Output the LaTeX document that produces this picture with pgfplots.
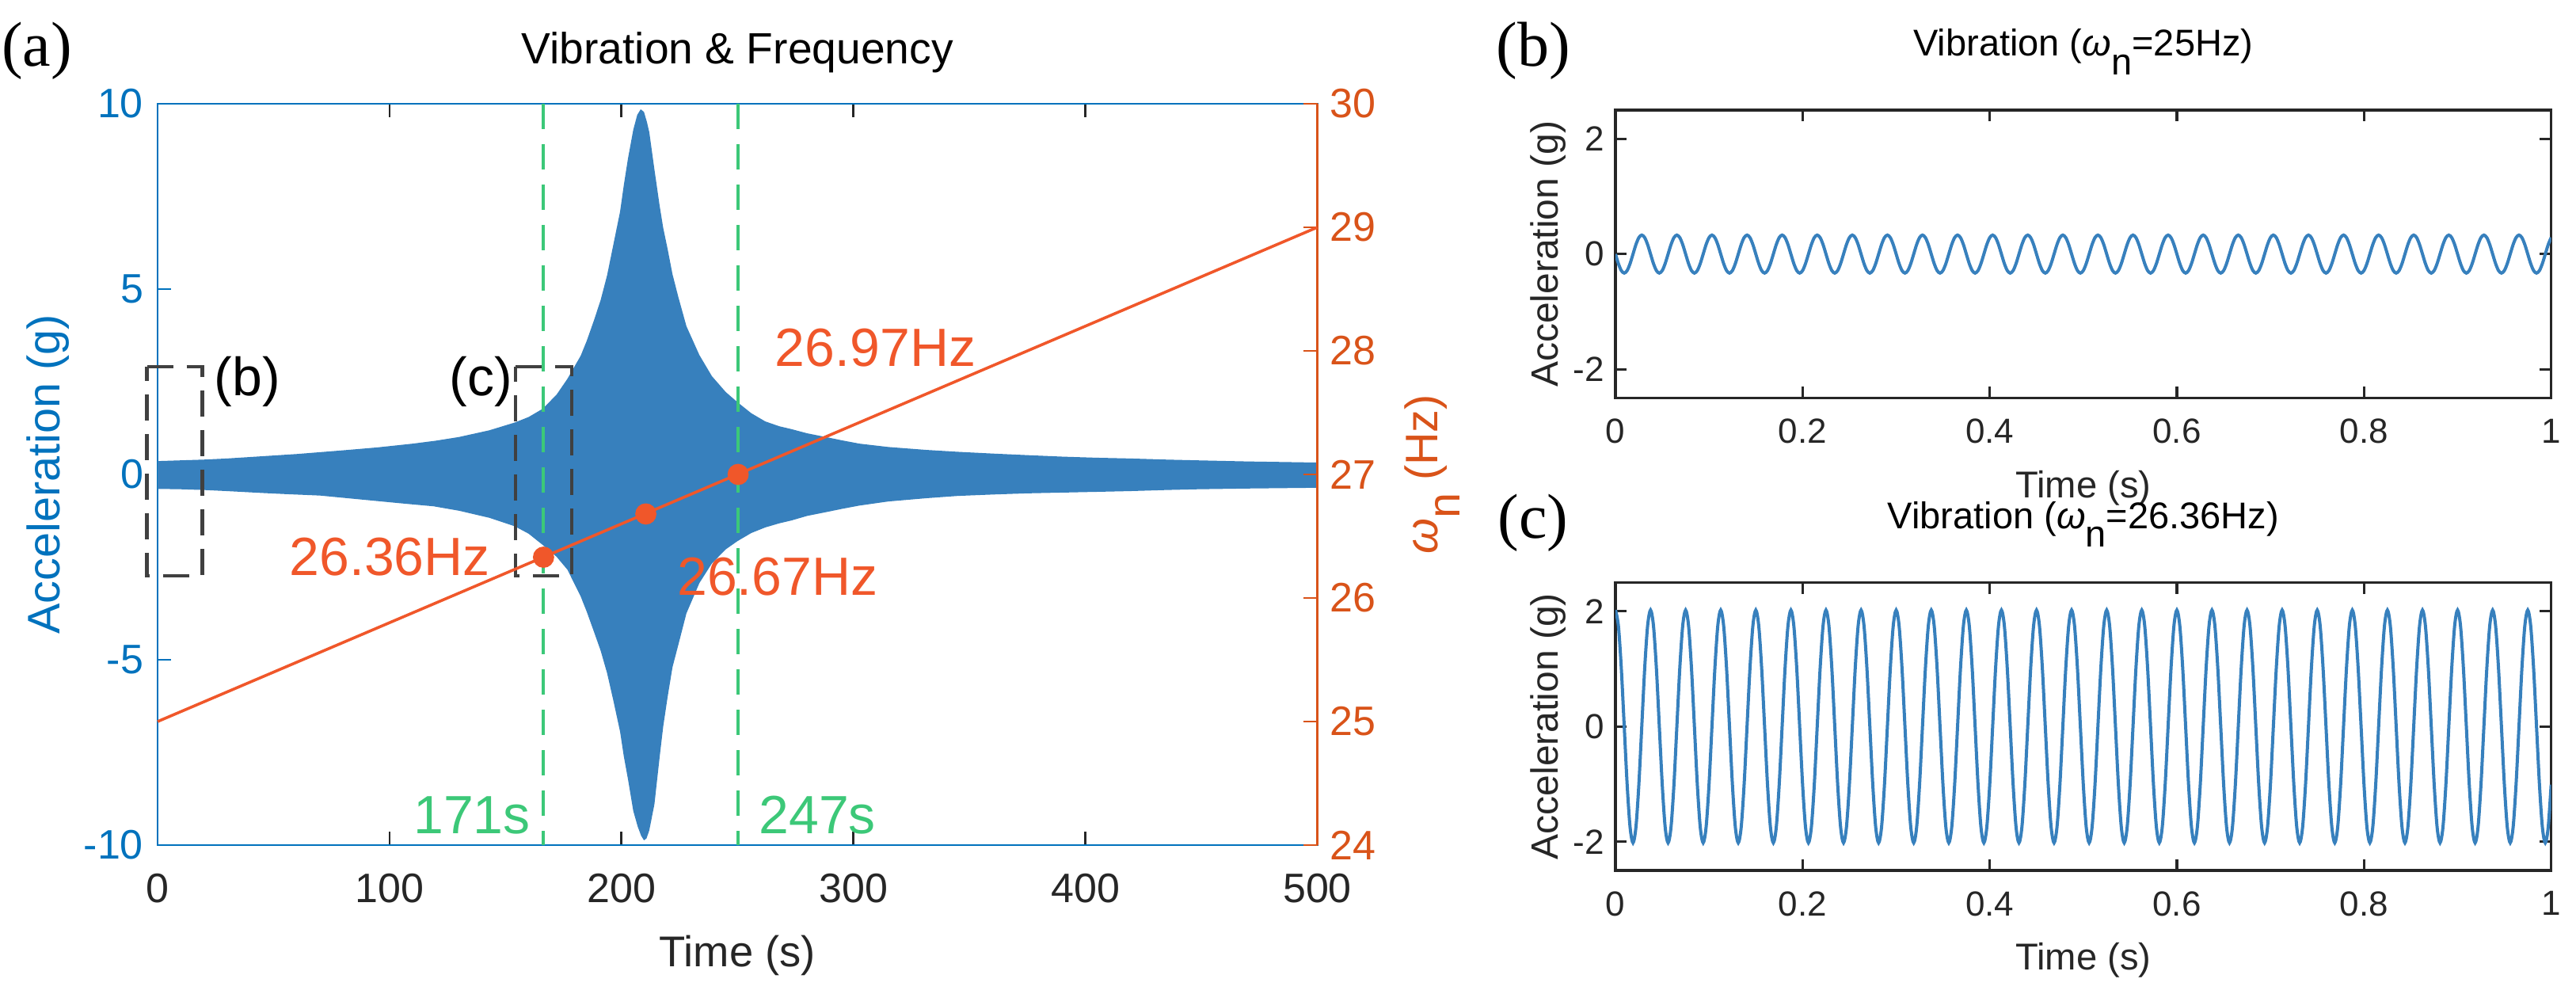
\documentclass[border=0pt]{standalone}
\usepackage{fontspec}
\setmainfont{Liberation Sans}
\newfontfamily\serifpanel{Liberation Serif}
\usepackage{pgfplots}
\usepackage{pgfplotstable}
\pgfplotsset{compat=1.18}

\definecolor{mblue}{RGB}{0,114,189}
\definecolor{morange}{RGB}{217,83,25}
\definecolor{fillblue}{RGB}{55,128,189}
\definecolor{lred}{RGB}{240,87,42}
\definecolor{lgreen}{RGB}{60,200,120}
\definecolor{boxgray}{RGB}{64,64,64}
\definecolor{axblack}{RGB}{38,38,38}

\newcommand{\fs}[1]{\fontsize{#1}{#1}\selectfont}
\newcommand{\wn}{\textit{ω}\raisebox{-0.5em}{n}}

% sampled signal, index k = 0..320 covers 0..1 s (step 3.125 ms)
\pgfplotstableread[row sep=\\]{
k b c\\
0 0 2.02\\1 -0.165 1.749\\2 -0.286 1.01\\3 -0.33 0\\4 -0.286 -1.01\\5 -0.165 -1.749\\6 0 -2.02\\7 0.165 -1.749\\8 0.286 -1.01\\9 0.33 0\\10 0.286 1.01\\11 0.165 1.749\\
12 0 2.02\\13 -0.165 1.749\\14 -0.286 1.01\\15 -0.33 0\\16 -0.286 -1.01\\17 -0.165 -1.749\\18 0 -2.02\\19 0.165 -1.749\\20 0.286 -1.01\\21 0.33 0\\22 0.286 1.01\\23 0.165 1.749\\
24 0 2.02\\25 -0.165 1.749\\26 -0.286 1.01\\27 -0.33 0\\28 -0.286 -1.01\\29 -0.165 -1.749\\30 0 -2.02\\31 0.165 -1.749\\32 0.286 -1.01\\33 0.33 0\\34 0.286 1.01\\35 0.165 1.749\\
36 0 2.02\\37 -0.165 1.749\\38 -0.286 1.01\\39 -0.33 0\\40 -0.286 -1.01\\41 -0.165 -1.749\\42 0 -2.02\\43 0.165 -1.749\\44 0.286 -1.01\\45 0.33 0\\46 0.286 1.01\\47 0.165 1.749\\
48 0 2.02\\49 -0.165 1.749\\50 -0.286 1.01\\51 -0.33 0\\52 -0.286 -1.01\\53 -0.165 -1.749\\54 0 -2.02\\55 0.165 -1.749\\56 0.286 -1.01\\57 0.33 0\\58 0.286 1.01\\59 0.165 1.749\\
60 0 2.02\\61 -0.165 1.749\\62 -0.286 1.01\\63 -0.33 0\\64 -0.286 -1.01\\65 -0.165 -1.749\\66 0 -2.02\\67 0.165 -1.749\\68 0.286 -1.01\\69 0.33 0\\70 0.286 1.01\\71 0.165 1.749\\
72 0 2.02\\73 -0.165 1.749\\74 -0.286 1.01\\75 -0.33 0\\76 -0.286 -1.01\\77 -0.165 -1.749\\78 0 -2.02\\79 0.165 -1.749\\80 0.286 -1.01\\81 0.33 0\\82 0.286 1.01\\83 0.165 1.749\\
84 0 2.02\\85 -0.165 1.749\\86 -0.286 1.01\\87 -0.33 0\\88 -0.286 -1.01\\89 -0.165 -1.749\\90 0 -2.02\\91 0.165 -1.749\\92 0.286 -1.01\\93 0.33 0\\94 0.286 1.01\\95 0.165 1.749\\
96 0 2.02\\97 -0.165 1.749\\98 -0.286 1.01\\99 -0.33 0\\100 -0.286 -1.01\\101 -0.165 -1.749\\102 0 -2.02\\103 0.165 -1.749\\104 0.286 -1.01\\105 0.33 0\\106 0.286 1.01\\107 0.165 1.749\\
108 0 2.02\\109 -0.165 1.749\\110 -0.286 1.01\\111 -0.33 0\\112 -0.286 -1.01\\113 -0.165 -1.749\\114 0 -2.02\\115 0.165 -1.749\\116 0.286 -1.01\\117 0.33 0\\118 0.286 1.01\\119 0.165 1.749\\
120 0 2.02\\121 -0.165 1.749\\122 -0.286 1.01\\123 -0.33 0\\124 -0.286 -1.01\\125 -0.165 -1.749\\126 0 -2.02\\127 0.165 -1.749\\128 0.286 -1.01\\129 0.33 0\\130 0.286 1.01\\131 0.165 1.749\\
132 0 2.02\\133 -0.165 1.749\\134 -0.286 1.01\\135 -0.33 0\\136 -0.286 -1.01\\137 -0.165 -1.749\\138 0 -2.02\\139 0.165 -1.749\\140 0.286 -1.01\\141 0.33 0\\142 0.286 1.01\\143 0.165 1.749\\
144 0 2.02\\145 -0.165 1.749\\146 -0.286 1.01\\147 -0.33 0\\148 -0.286 -1.01\\149 -0.165 -1.749\\150 0 -2.02\\151 0.165 -1.749\\152 0.286 -1.01\\153 0.33 0\\154 0.286 1.01\\155 0.165 1.749\\
156 0 2.02\\157 -0.165 1.749\\158 -0.286 1.01\\159 -0.33 0\\160 -0.286 -1.01\\161 -0.165 -1.749\\162 0 -2.02\\163 0.165 -1.749\\164 0.286 -1.01\\165 0.33 0\\166 0.286 1.01\\167 0.165 1.749\\
168 0 2.02\\169 -0.165 1.749\\170 -0.286 1.01\\171 -0.33 0\\172 -0.286 -1.01\\173 -0.165 -1.749\\174 0 -2.02\\175 0.165 -1.749\\176 0.286 -1.01\\177 0.33 0\\178 0.286 1.01\\179 0.165 1.749\\
180 0 2.02\\181 -0.165 1.749\\182 -0.286 1.01\\183 -0.33 0\\184 -0.286 -1.01\\185 -0.165 -1.749\\186 0 -2.02\\187 0.165 -1.749\\188 0.286 -1.01\\189 0.33 0\\190 0.286 1.01\\191 0.165 1.749\\
192 0 2.02\\193 -0.165 1.749\\194 -0.286 1.01\\195 -0.33 0\\196 -0.286 -1.01\\197 -0.165 -1.749\\198 0 -2.02\\199 0.165 -1.749\\200 0.286 -1.01\\201 0.33 0\\202 0.286 1.01\\203 0.165 1.749\\
204 0 2.02\\205 -0.165 1.749\\206 -0.286 1.01\\207 -0.33 0\\208 -0.286 -1.01\\209 -0.165 -1.749\\210 0 -2.02\\211 0.165 -1.749\\212 0.286 -1.01\\213 0.33 0\\214 0.286 1.01\\215 0.165 1.749\\
216 0 2.02\\217 -0.165 1.749\\218 -0.286 1.01\\219 -0.33 0\\220 -0.286 -1.01\\221 -0.165 -1.749\\222 0 -2.02\\223 0.165 -1.749\\224 0.286 -1.01\\225 0.33 0\\226 0.286 1.01\\227 0.165 1.749\\
228 0 2.02\\229 -0.165 1.749\\230 -0.286 1.01\\231 -0.33 0\\232 -0.286 -1.01\\233 -0.165 -1.749\\234 0 -2.02\\235 0.165 -1.749\\236 0.286 -1.01\\237 0.33 0\\238 0.286 1.01\\239 0.165 1.749\\
240 0 2.02\\241 -0.165 1.749\\242 -0.286 1.01\\243 -0.33 0\\244 -0.286 -1.01\\245 -0.165 -1.749\\246 0 -2.02\\247 0.165 -1.749\\248 0.286 -1.01\\249 0.33 0\\250 0.286 1.01\\251 0.165 1.749\\
252 0 2.02\\253 -0.165 1.749\\254 -0.286 1.01\\255 -0.33 0\\256 -0.286 -1.01\\257 -0.165 -1.749\\258 0 -2.02\\259 0.165 -1.749\\260 0.286 -1.01\\261 0.33 0\\262 0.286 1.01\\263 0.165 1.749\\
264 0 2.02\\265 -0.165 1.749\\266 -0.286 1.01\\267 -0.33 0\\268 -0.286 -1.01\\269 -0.165 -1.749\\270 0 -2.02\\271 0.165 -1.749\\272 0.286 -1.01\\273 0.33 0\\274 0.286 1.01\\275 0.165 1.749\\
276 0 2.02\\277 -0.165 1.749\\278 -0.286 1.01\\279 -0.33 0\\280 -0.286 -1.01\\281 -0.165 -1.749\\282 0 -2.02\\283 0.165 -1.749\\284 0.286 -1.01\\285 0.33 0\\286 0.286 1.01\\287 0.165 1.749\\
288 0 2.02\\289 -0.165 1.749\\290 -0.286 1.01\\291 -0.33 0\\292 -0.286 -1.01\\293 -0.165 -1.749\\294 0 -2.02\\295 0.165 -1.749\\296 0.286 -1.01\\297 0.33 0\\298 0.286 1.01\\299 0.165 1.749\\
300 0 2.02\\301 -0.165 1.749\\302 -0.286 1.01\\303 -0.33 0\\304 -0.286 -1.01\\305 -0.165 -1.749\\306 0 -2.02\\307 0.165 -1.749\\308 0.286 -1.01\\309 0.33 0\\310 0.286 1.01\\311 0.165 1.749\\
312 0 2.02\\313 -0.165 1.749\\314 -0.286 1.01\\315 -0.33 0\\316 -0.286 -1.01\\317 -0.165 -1.749\\318 0 -2.02\\319 0.165 -1.749\\320 0.286 -1.01\\
}\sinetab

\pgfplotsset{
  /pgf/number format/assume math mode=true,
  smallpanel/.style={
    anchor=south west, scale only axis, width=295.4bp, height=90.9bp,
    xmin=0, xmax=320, ymin=-2.5, ymax=2.5,
    xtick={0,64,128,192,256,320}, xticklabels={0,0.2,0.4,0.6,0.8,1},
    ytick={-2,0,2},
    tick align=inside, major tick length=3.6bp,
    axis line style={axblack, line width=0.8bp},
    tick style={axblack, line width=0.8bp},
    tick label style={font=\fs{11bp}, text=axblack},
    xticklabel style={yshift=-3.1bp},
    xlabel style={at={(axis description cs:0.5,0)}, anchor=base, yshift=-31.4bp, font=\fs{11.8bp}, text=axblack},
    ylabel style={at={(axis description cs:0,0.5)}, anchor=base, yshift=18.2bp, font=\fs{12bp}, text=axblack},
    title style={at={(axis description cs:0.5,1)}, anchor=base, yshift=11.1bp, font=\fs{11.75bp}, text=black},
    xlabel={Time (s)}, ylabel={Acceleration (g)},
  },
}

\begin{document}
\begin{tikzpicture}
\useasboundingbox (0,0) rectangle (813.25bp,313.75bp);

\node[anchor=base west, inner sep=0, font=\serifpanel\fs{20bp}] at (0.35bp,292.9bp) {(a)};
\node[anchor=base west, inner sep=0, font=\serifpanel\fs{20bp}] at (472.25bp,292.9bp) {(b)};
\node[anchor=base west, inner sep=0, font=\serifpanel\fs{20bp}] at (472.75bp,143.75bp) {(c)};

% ---------------- panel (a), left axis ----------------
\begin{axis}[
  at={(49.75bp,47bp)}, anchor=south west, scale only axis,
  width=366.125bp, height=234bp,
  xmin=0, xmax=500, ymin=-10, ymax=10,
  xtick={0,100,200,300,400,500}, ytick={-10,-5,0,5,10},
  ytick pos=left,
  tick align=inside, major tick length=4.3bp,
  clip=false,
  x axis line style={axblack, line width=0.7bp},
  y axis line style={mblue, line width=0.7bp},
  x tick style={axblack, line width=0.7bp},
  y tick style={mblue, line width=0.7bp},
  tick label style={font=\fs{13bp}},
  xticklabel style={text=axblack, yshift=-5.6bp},
  yticklabel style={text=mblue, xshift=-1bp},
  xlabel={Time (s)},
  xlabel style={at={(axis description cs:0.5,0)}, anchor=base, yshift=-38.4bp, font=\fs{13.6bp}, text=axblack},
  ylabel={Acceleration (g)},
  ylabel style={at={(axis description cs:0,0.5)}, anchor=base, yshift=30.75bp, font=\fs{14.4bp}, text=mblue},
  title={Vibration \& Frequency},
  title style={at={(axis description cs:0.5,1)}, anchor=base, yshift=6.75bp, font=\fs{13.8bp}, text=black},
]
% vibration envelope (upper edge forward, lower edge backward)
\addplot[draw=none, fill=fillblue] coordinates {
(0,0.36) (10,0.38) (20,0.40) (30,0.43) (45,0.49) (60,0.55) (70,0.60) (80,0.65) (95,0.73) (110,0.83)
(120,0.91) (130,1.01) (143,1.19) (154,1.40) (160,1.55) (166,1.77) (172,2.15) (176.7,2.58) (182.4,3.2)
(185,3.6) (188.1,4.15) (191,4.7) (193.8,5.37) (196.5,6.2) (199.4,7.09) (201,7.8) (202.8,8.52)
(205.1,9.30) (206.8,9.7) (208.3,9.85) (209.7,9.78) (211,9.5) (212,9.23) (214.2,8.23) (216.5,7.23)
(218,6.65) (219.9,6.08) (222,5.4) (224.5,4.79) (228,4.0) (233.6,3.22) (239,2.65) (245,2.22)
(250,1.95) (256,1.65) (262,1.43) (268,1.30) (273.4,1.22) (280,1.11) (288,1.01) (295,0.92)
(302.6,0.83) (315,0.74) (331.7,0.66) (345,0.61) (360.9,0.56) (375,0.52) (390,0.48) (405,0.45)
(419.3,0.43) (435,0.40) (448.4,0.38) (470,0.35) (500,0.32)
(500,-0.36) (470,-0.38) (448.4,-0.40) (435,-0.42) (419.3,-0.45) (405,-0.47) (390,-0.49) (375,-0.51)
(360.9,-0.54) (345,-0.58) (331.7,-0.64) (315,-0.73) (302.6,-0.84) (295,-0.93) (288,-1.02) (280,-1.12)
(273.4,-1.24) (268,-1.32) (262,-1.43) (256,-1.58) (250,-1.80) (245,-2.02) (239,-2.40) (233.6,-2.93)
(228,-3.75) (224.5,-4.6) (222,-5.2) (219.9,-6.0) (218,-6.8) (216.5,-7.6) (214.2,-8.9) (212,-9.6)
(210.8,-9.82) (209.7,-9.87) (208.5,-9.75) (207,-9.5) (205.1,-9.08) (202.8,-8.22) (201,-7.6)
(199.4,-6.94) (196.5,-6.1) (193.8,-5.36) (191,-4.75) (188,-4.22) (185,-3.7) (182.4,-3.29)
(176.7,-2.57) (172,-2.22) (166,-1.90) (160,-1.6) (154,-1.40) (143,-1.17) (130,-0.98) (119,-0.86)
(105,-0.78) (95,-0.72) (80,-0.63) (70,-0.57) (55,-0.53) (45,-0.50) (30,-0.45) (20,-0.42) (10,-0.40)
(0,-0.39) (0,0.36)
};
% zoom boxes
\addplot[boxgray, line width=1.05bp, dash pattern=on 8.3bp off 4.2bp] coordinates {
(-4.6,2.91) (19.3,2.91) (19.3,-2.73) (-4.6,-2.73) (-4.6,2.91)};
\addplot[boxgray, line width=1.05bp, dash pattern=on 8.3bp off 4.2bp] coordinates {
(154.4,2.91) (178.5,2.91) (178.5,-2.73) (154.4,-2.73) (154.4,2.91)};
% time markers
\addplot[lgreen, line width=1bp, dash pattern=on 7.9bp off 4.85bp] coordinates {(166.2,10) (166.2,-10)};
\addplot[lgreen, line width=1bp, dash pattern=on 7.9bp off 4.85bp] coordinates {(250.2,10) (250.2,-10)};
% annotations
\node[anchor=base west, inner sep=0, font=\fs{17bp}, text=black] at (axis cs:24.2,2.13) {(b)};
\node[anchor=base west, inner sep=0, font=\fs{17bp}, text=black] at (axis cs:125.7,2.13) {(c)};
\node[anchor=base west, inner sep=0, font=\fs{17bp}, text=lgreen] at (axis cs:110.1,-9.69) {171s};
\node[anchor=base west, inner sep=0, font=\fs{17bp}, text=lgreen] at (axis cs:259.0,-9.68) {247s};
\node[anchor=base west, inner sep=0, font=\fs{17bp}, text=lred] at (axis cs:56.6,-2.73) {26.36Hz};
\node[anchor=base west, inner sep=0, font=\fs{17bp}, text=lred] at (axis cs:223.8,-3.26) {26.67Hz};
\node[anchor=base west, inner sep=0, font=\fs{17bp}, text=lred] at (axis cs:266.0,2.91) {26.97Hz};
\end{axis}

% ---------------- panel (a), right axis ----------------
\begin{axis}[
  at={(49.75bp,47bp)}, anchor=south west, scale only axis,
  width=366.125bp, height=234bp,
  xmin=0, xmax=500, ymin=24, ymax=30,
  axis y line*=right, axis x line=none,
  ytick={24,25,26,27,28,29,30},
  tick align=inside, major tick length=4.3bp,
  clip=false,
  y axis line style={morange, line width=0.7bp},
  y tick style={morange, line width=0.7bp},
  yticklabel style={text=morange, xshift=0.5bp, font=\fs{13bp}},
  ylabel={\wn\ (Hz)},
  ylabel style={at={(axis description cs:1,0.5)}, anchor=base, yshift=-37.9bp, font=\fs{14.4bp}, text=morange},
]
\addplot[lred, line width=0.9bp] coordinates {(0,25) (500,29)};
\addplot[only marks, mark=*, mark size=3.15bp, mark options={fill=lred, draw=lred}, lred]
  coordinates {(166.4,26.33) (210.5,26.68) (250.3,27.0)};
\end{axis}

% ---------------- panel (b) ----------------
\begin{axis}[smallpanel, at={(510bp,188.1bp)},
  title={Vibration (\wn=25Hz)}]
\addplot[fillblue, line width=1bp, smooth] table[x=k, y=b] {\sinetab};
\end{axis}

% ---------------- panel (c) ----------------
\begin{axis}[smallpanel, at={(510bp,39bp)},
  title={Vibration (\wn=26.36Hz)}]
\addplot[fillblue, line width=1bp, smooth] table[x=k, y=c] {\sinetab};
\end{axis}
\end{tikzpicture}
\end{document}
